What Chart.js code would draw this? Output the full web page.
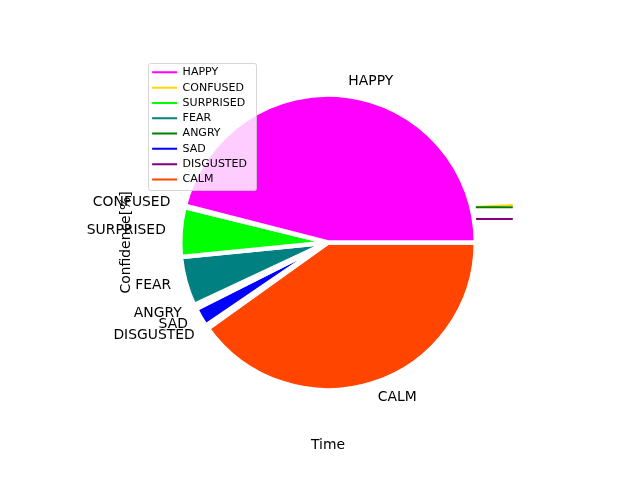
<!DOCTYPE html>
<html>
<head>
<meta charset="utf-8">
<script src="https://cdn.jsdelivr.net/npm/chart.js@4/dist/chart.umd.min.js"></script>
<style>
  html, body { margin: 0; padding: 0; background: #fff; }
</style>
</head>
<body>
<canvas id="chart" width="640" height="480"></canvas>
<script>
// --- Data ---
const emotions = ["HAPPY", "CONFUSED", "SURPRISED", "FEAR", "ANGRY", "SAD", "DISGUSTED", "CALM"];
const colors   = ["#ff00ff", "#ffd700", "#00ff00", "#008080", "#008000", "#0000ff", "#800080", "#ff4500"];

// share of each emotion over the whole clip (pie, %)
const shares = [46.0, 0.14, 5.42, 5.39, 0.47, 2.08, 0.39, 40.1];

// confidence per frame (%), drawn as lines behind the pie
const times        = [1, 2];
const happyConf    = [46.0, 46.0];
const confusedConf = [0.24, 0.29];
const surprisedConf = [5.4, 5.4];
const fearConf     = [5.4, 5.4];
const angryConf    = [0.237, 0.237];
const sadConf      = [2.1, 2.1];
const disgustedConf = [0.158, 0.158];
const calmConf     = [40.1, 40.1];
const lineSeries = [happyConf, confusedConf, surprisedConf, fearConf, angryConf, sadConf, disgustedConf, calmConf];

const FONT = "'DejaVu Sans', sans-serif";
const LEGEND_FS = 11;
const LEGEND_PAD = 4.3;

Chart.defaults.font.family = FONT;
Chart.defaults.color = "#000";

// --- Datasets ---
// pie goes clockwise in Chart.js, matplotlib goes counter-clockwise -> reverse
const pieDataset = {
  type: "pie",
  data: shares.slice().reverse(),
  backgroundColor: colors.slice().reverse(),
  borderColor: "#ffffff",
  borderWidth: 4.5,
  radius: 147.8,
  rotation: 90,
  order: 0
};

const lineDatasets = emotions.map((name, i) => ({
  type: "line",
  label: name,
  data: times.map((t, k) => ({ x: t, y: lineSeries[i][k] })),
  borderColor: colors[i],
  backgroundColor: colors[i],
  borderWidth: 2,
  pointRadius: 0,
  fill: false,
  tension: 0,
  clip: 0,
  weight: 0,                          // keeps the pie a full pie
  order: 1 + (emotions.length - 1 - i) // later series on top, like matplotlib
}));

// --- Plugins ---
// wedge labels at 1.1 * radius, like matplotlib's labeldistance
const pieLabels = {
  id: "pieLabels",
  afterDatasetsDraw(chart) {
    const meta = chart.getDatasetMeta(0);
    const ctx = chart.ctx;
    const n = emotions.length;
    ctx.save();
    ctx.font = "13.9px " + FONT;
    ctx.fillStyle = "#000";
    ctx.textBaseline = "middle";
    meta.data.forEach((arc, i) => {
      const p = arc.getProps(["x", "y", "startAngle", "endAngle", "outerRadius"]);
      const mid = (p.startAngle + p.endAngle) / 2;
      const r = p.outerRadius * 1.1;
      ctx.textAlign = Math.cos(mid) > 0 ? "left" : "right";
      ctx.fillText(emotions[n - 1 - i], p.x + r * Math.cos(mid), p.y + r * Math.sin(mid));
    });
    ctx.restore();
  }
};

function drawLegendFrame(lg) {
  const ctx = lg.ctx;
  const count = lg.legendItems.length;
  const h = LEGEND_PAD + count * (LEGEND_FS + LEGEND_PAD);
  ctx.save();
  ctx.beginPath();
  ctx.roundRect(Math.round(lg.left) + 0.5, Math.round(lg.top) + 0.5, Math.round(lg.width) - 1, Math.round(h), 2);
  ctx.fillStyle = "rgba(255,255,255,0.8)";
  ctx.fill();
  ctx.lineWidth = 1;
  ctx.strokeStyle = "rgba(204,204,204,0.8)";
  ctx.stroke();
  ctx.restore();
}

// legend is drawn above the pie, inset a little from the axes corner
const legendOnTop = {
  id: "legendOnTop",
  afterInit(chart) {
    const lg = chart.legend;
    lg._layers = () => [{ z: 10, draw: (area) => { drawLegendFrame(lg); lg.draw(area); } }];
  },
  afterLayout(chart) {
    const lg = chart.legend;
    const area = chart.chartArea;
    lg.left = area.left + LEGEND_FS * 0.42;
    lg.top = area.top + LEGEND_FS * 0.45;
    lg.bottom = area.bottom;
  }
};

// --- Chart ---
new Chart(document.getElementById("chart"), {
  type: "line",
  data: { datasets: [pieDataset, ...lineDatasets] },
  options: {
    responsive: false,
    animation: false,
    events: [],
    layout: { padding: { left: 0, top: 57.6, right: 127.2, bottom: 0 } },
    scales: {
      x: {
        type: "linear", min: -1.25, max: 1.25,
        grid: { display: false }, border: { display: false }, ticks: { display: false },
        title: { display: true, text: "Time", font: { size: 13.9 }, padding: { top: 0, bottom: 26.6 } },
        afterFit(s) { s.height = 52.8; }
      },
      y: {
        type: "linear", min: -1.25, max: 1.25,
        grid: { display: false }, border: { display: false }, ticks: { display: false },
        title: { display: true, text: "Confidence[%]", font: { size: 13.9 }, padding: { top: 117.6, bottom: 0 } },
        afterFit(s) { s.width = 143.2; }
      }
    },
    plugins: {
      tooltip: { enabled: false },
      legend: {
        position: "chartArea",
        align: "start",
        labels: {
          usePointStyle: true,
          pointStyle: "line",
          pointStyleWidth: 25,
          padding: LEGEND_PAD,
          font: { size: LEGEND_FS },
          filter: (item) => item.text !== undefined,
          sort: (a, b) => a.datasetIndex - b.datasetIndex
        }
      }
    }
  },
  plugins: [pieLabels, legendOnTop]
});
</script>
</body>
</html>
